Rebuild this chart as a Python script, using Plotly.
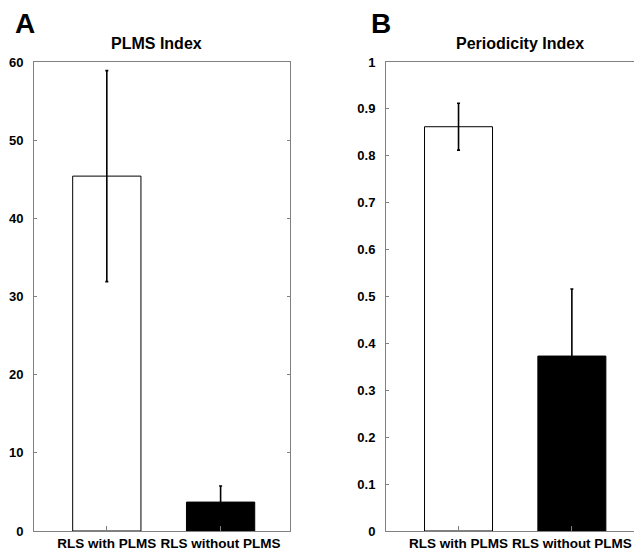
import plotly.graph_objects as go

categories = ["RLS with PLMS", "RLS without PLMS"]
plms_index = [45.4, 3.7]
plms_err = [13.5, 2.05]
periodicity = [0.862, 0.373]
periodicity_err = [0.05, 0.143]
bar_colors = ["white", "black"]

FONT = "Liberation Sans, Arial, sans-serif"

# page has an 8px body margin; figure is sized so it fits the 642x552 window
OFF = 8
W, H = 642 - OFF, 552 - OFF


def px(x):
    return (x - OFF) / W


def py(y):
    return 1 - (y - OFF) / H


fig = go.Figure()
fig.add_trace(go.Bar(
    x=categories, y=plms_index, width=0.6,
    marker=dict(color=bar_colors, line=dict(color="black", width=1)),
    error_y=dict(type="data", array=plms_err, visible=True, color="black", thickness=1.6, width=1.5),
    xaxis="x", yaxis="y", showlegend=False,
))
fig.add_trace(go.Bar(
    x=categories, y=periodicity, width=0.6,
    marker=dict(color=bar_colors, line=dict(color="black", width=1)),
    error_y=dict(type="data", array=periodicity_err, visible=True, color="black", thickness=1.6, width=1.5),
    xaxis="x2", yaxis="y2", showlegend=False,
))

xcommon = dict(showline=True, linecolor="#808080", linewidth=1, mirror=True,
               ticks="inside", ticklen=5, tickcolor="#808080", showgrid=False,
               zeroline=False, range=[-0.64, 1.61], type="category", automargin=False,
               tickfont=dict(family=FONT, size=13.5, color="black", weight="bold"))
ycommon = dict(showline=True, linecolor="#808080", linewidth=1, mirror="ticks",
               ticks="inside", ticklen=3, tickcolor="#808080", showgrid=False,
               zeroline=False, ticklabelstandoff=7, automargin=False,
               tickfont=dict(family=FONT, size=13, color="black", weight="bold"))


def label(text, x, y, size):
    return dict(text=text, x=px(x), y=py(y), xref="paper", yref="paper",
                xanchor="center", yanchor="middle", showarrow=False,
                font=dict(family=FONT, size=size, color="black", weight="bold"))


ydom = [py(531), py(62)]
fig.update_layout(
    width=W, height=H,
    margin=dict(l=0, r=0, t=0, b=0, autoexpand=False),
    paper_bgcolor="white", plot_bgcolor="white",
    bargap=0.4,
    xaxis=dict(domain=[px(34), px(290)], anchor="y", **xcommon),
    yaxis=dict(domain=ydom, anchor="x", range=[0, 60], dtick=10, **ycommon),
    xaxis2=dict(domain=[px(386), px(641)], anchor="y2", **xcommon),
    yaxis2=dict(domain=ydom, anchor="x2", range=[0, 1], dtick=0.1, **ycommon),
    annotations=[
        label("A", 25, 23, 28),
        label("B", 381, 23, 28),
        label("PLMS Index", 156, 44, 16),
        label("Periodicity Index", 520, 44, 16),
    ],
)

fig.write_html("out.html")
